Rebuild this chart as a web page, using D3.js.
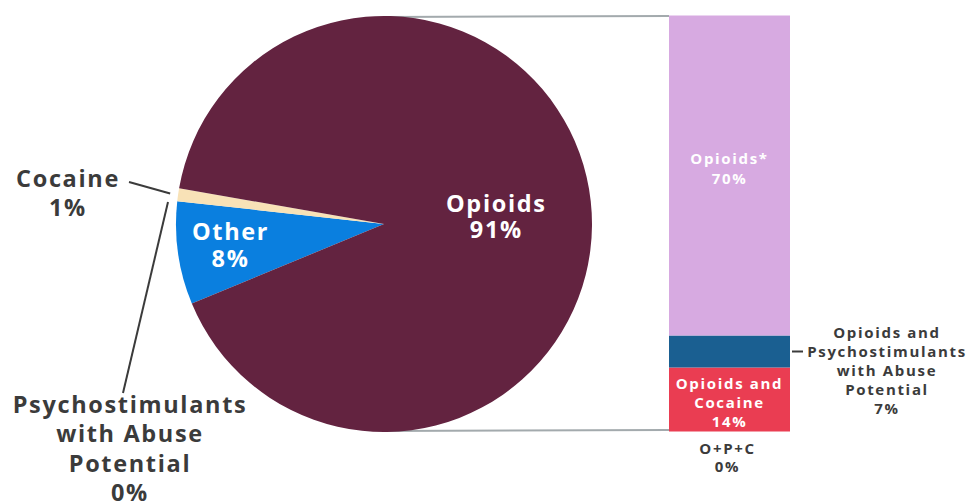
<!DOCTYPE html>
<html><head><meta charset="utf-8">
<script src="https://cdn.jsdelivr.net/npm/d3@7"></script>
<style>body{margin:0;background:#fff}svg text{font-family:"Open Sans",Lato,sans-serif;font-weight:700}</style>
</head><body><svg id="c" width="969" height="502"></svg>
<script>
// ---- data ----
const pieCategories = ["Other", "Cocaine", "Psychostimulants with Abuse Potential", "Opioids"];
const pieValues = [8, 1, 0, 91];
const pieColors = ["#0a7fdf", "#f8e2b7", "#1a5f91", "#632340"];
const barCategories = ["Opioids and Cocaine", "Opioids and Psychostimulants with Abuse Potential", "Opioids*"];
const barValues = [14, 7, 70];
const barColors = ["#ea3d52", "#1a5f91", "#d7aae1"];
const opcLabel = "O+P+C";
const opcValue = 0;

// ---- layout ----
const svg = d3.select("#c");
const cx = 384, cy = 224, R = 208;
const barX0 = 669, barW = 121;
const total = d3.sum(barValues);
const y = d3.scaleLinear().domain([0, total]).range([431.5, 15.5]);
const start = (247.5) * Math.PI / 180;
const pie = d3.pie().sort(null).value(d => d.v).startAngle(start).endAngle(start + 2 * Math.PI);
const arcs = pie(pieCategories.map((c, i) => ({c, v: pieValues[i], col: pieColors[i]})));
const arc = d3.arc().innerRadius(0).outerRadius(R);

const bigFont = 23.5, smallFont = 15;
// fit letter-spacing so a sample word matches the reference width
function fitLS(size, sample, target) {
  const t = svg.append("text").attr("font-size", size).text(sample);
  const w = t.node().getComputedTextLength();
  t.remove();
  return Math.max(0, (target - w) / (sample.length - 1));
}
const bigLS = fitLS(bigFont, "Psychostimulants", 233) + "px";
const smLS = fitLS(smallFont, "Psychostimulants", 158) + "px";

// connector lines
const grey = "#a3aaad";
svg.append("line").attr("x1", cx).attr("y1", cy - R + 1).attr("x2", barX0).attr("y2", y(total) + 0.5)
  .attr("stroke", grey).attr("stroke-width", 2);
svg.append("line").attr("x1", cx).attr("y1", cy + R - 1).attr("x2", barX0).attr("y2", y(0) - 1.5)
  .attr("stroke", grey).attr("stroke-width", 2);

// pie
const g = svg.append("g").attr("transform", `translate(${cx},${cy})`);
g.selectAll("path").data(arcs).join("path").attr("d", arc).attr("fill", d => d.data.col);

function multi(sel, lines, x, y0, lh) {
  const t = sel.append("text").attr("text-anchor", "middle");
  lines.forEach((l, i) => t.append("tspan").attr("x", x).attr("y", y0 + i * lh).text(l));
  return t;
}
function pct(v) { return v + "%"; }
const opA = arcs[3], otA = arcs[0];
const la1 = d3.arc().innerRadius(113).outerRadius(113).centroid(opA);
multi(g, ["Opioids", pct(pieValues[3])], la1[0], la1[1], 26)
  .attr("fill", "#fff").attr("font-size", bigFont).attr("letter-spacing", bigLS);
const la2 = d3.arc().innerRadius(155).outerRadius(155).centroid(otA);
multi(g, ["Other", pct(pieValues[0])], la2[0], la2[1] - 6, 27)
  .attr("fill", "#fff").attr("font-size", bigFont).attr("letter-spacing", bigLS);

// outer labels
const dark = "#3b3b3b";
multi(svg, ["Cocaine", pct(pieValues[1])], 68, 187, 29).attr("fill", dark).attr("font-size", bigFont).attr("letter-spacing", bigLS);
multi(svg, ["Psychostimulants", "with Abuse", "Potential", pct(pieValues[2])], 130, 413, 29.3).attr("fill", dark).attr("font-size", bigFont).attr("letter-spacing", bigLS);
const coc = arcs[1];
const cm = (coc.startAngle + coc.endAngle) / 2;
const p1 = [cx + 216 * Math.sin(cm), cy - 216 * Math.cos(cm)];
svg.append("line").attr("x1", 129).attr("y1", 182).attr("x2", p1[0]).attr("y2", p1[1]).attr("stroke", dark).attr("stroke-width", 2);
svg.append("line").attr("x1", 123).attr("y1", 393).attr("x2", 168).attr("y2", 202).attr("stroke", dark).attr("stroke-width", 2);

// stacked bar
let acc = 0;
const segs = barValues.map((v, i) => { const s = {v, y0: acc, y1: acc + v, col: barColors[i], c: barCategories[i]}; acc += v; return s; });
svg.selectAll("rect.seg").data(segs).join("rect").attr("class", "seg")
  .attr("x", barX0).attr("width", barW).attr("y", d => y(d.y1)).attr("height", d => y(d.y0) - y(d.y1)).attr("fill", d => d.col);

const bx = barX0 + barW / 2;
multi(svg, ["Opioids*", pct(barValues[2])], bx, (y(segs[2].y0) + y(segs[2].y1)) / 2 - 11.5, 19.5)
  .attr("fill", "#fff").attr("font-size", smallFont).attr("letter-spacing", smLS);
multi(svg, ["Opioids and", "Cocaine", pct(barValues[0])], bx, (y(segs[0].y0) + y(segs[0].y1)) / 2 - 11, 19)
  .attr("fill", "#fff").attr("font-size", smallFont).attr("letter-spacing", smLS);
multi(svg, [opcLabel, pct(opcValue)], bx - 2, y(0) + 22, 18.5)
  .attr("fill", dark).attr("font-size", smallFont).attr("letter-spacing", smLS);
const pm = (y(segs[1].y0) + y(segs[1].y1)) / 2;
multi(svg, ["Opioids and", "Psychostimulants", "with Abuse", "Potential", pct(barValues[1])], 887, pm - 14, 19.2)
  .attr("fill", dark).attr("font-size", smallFont).attr("letter-spacing", smLS);
svg.append("line").attr("x1", barX0 + barW + 2).attr("x2", barX0 + barW + 13).attr("y1", pm).attr("y2", pm)
  .attr("stroke", dark).attr("stroke-width", 2);
</script></body></html>
